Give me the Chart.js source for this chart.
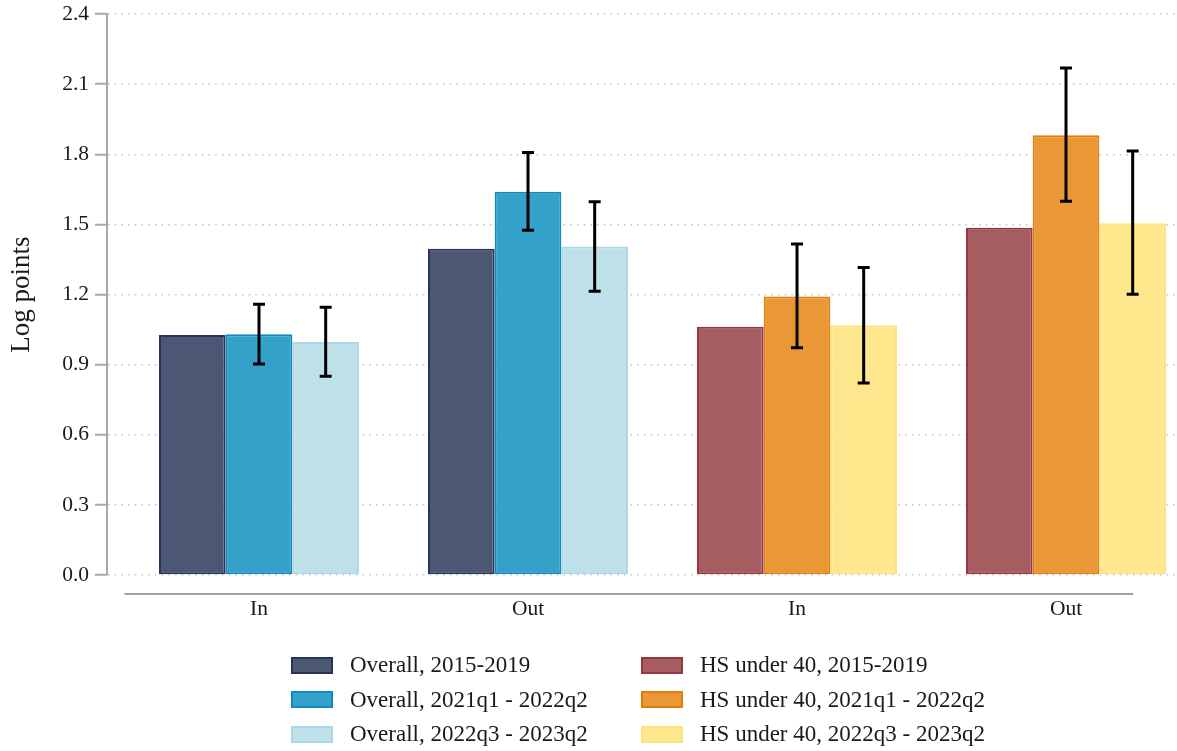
<!DOCTYPE html>
<html>
<head>
<meta charset="utf-8">
<script src="https://cdn.jsdelivr.net/npm/chart.js@4/dist/chart.umd.min.js"></script>
<style>
  html, body { margin: 0; padding: 0; background: #fff; }
  #wrap { position: relative; width: 1177px; height: 751px; overflow: hidden; }
  #c { position: absolute; left: 0; top: 0; }
  #legend { position: absolute; left: 291px; top: 648px; display: grid;
    grid-template-columns: 350px auto; grid-template-rows: repeat(3, 34.5px);
    grid-auto-flow: column; font-family: 'Liberation Serif', serif; font-size: 23px; color: #1a1a1a; }
  .li { display: flex; align-items: center; white-space: nowrap; }
  .sw { width: 42px; height: 17px; box-sizing: border-box; border: 2px solid; margin-right: 17px; flex: none; }
</style>
</head>
<body>
<div id="wrap">
  <canvas id="c" width="1177" height="751"></canvas>
  <div id="legend"></div>
</div>
<script>
// ---- data ----
const categories = ['In', 'Out', 'In', 'Out'];
const xPositions = [1, 2, 3, 4];
const yTickValues = [0, 0.3, 0.6, 0.9, 1.2, 1.5, 1.8, 2.1, 2.4];

const seriesLabels = [
  'Overall, 2015-2019', 'Overall, 2021q1 - 2022q2', 'Overall, 2022q3 - 2023q2',
  'HS under 40, 2015-2019', 'HS under 40, 2021q1 - 2022q2', 'HS under 40, 2022q3 - 2023q2'
];
const overall2015 = [1.027, 1.396, null, null];
const overall2021 = [1.030, 1.640, null, null];
const overall2022 = [0.997, 1.405, null, null];
const hs2015 = [null, null, 1.062, 1.486];
const hs2021 = [null, null, 1.191, 1.881];
const hs2022 = [null, null, 1.068, 1.505];

const overall2021Low  = [0.903, 1.475, null, null];
const overall2021High = [1.158, 1.808, null, null];
const overall2022Low  = [0.850, 1.214, null, null];
const overall2022High = [1.145, 1.597, null, null];
const hs2021Low  = [null, null, 0.972, 1.599];
const hs2021High = [null, null, 1.416, 2.169];
const hs2022Low  = [null, null, 0.821, 1.201];
const hs2022High = [null, null, 1.315, 1.814];

// ---- styles ----
const fills   = ['#4b5773', '#34a1c8', '#bde0e9', '#a65d62', '#e99835', '#fee78d'];
const borders = ['#27335a', '#0e8abf', '#acd8e5', '#953640', '#e17d09', '#fde37d'];

const values = [overall2015, overall2021, overall2022, hs2015, hs2021, hs2022];
const lows   = [null, overall2021Low, overall2022Low, null, hs2021Low, hs2022Low];
const highs  = [null, overall2021High, overall2022High, null, hs2021High, hs2022High];

const toPoints = arr => xPositions.map((x, i) => ({ x: x, y: arr[i] }));

const datasets = values.map((arr, k) => ({
  label: seriesLabels[k],
  data: toPoints(arr),
  errLow: lows[k],
  errHigh: highs[k],
  backgroundColor: fills[k],
  borderColor: borders[k],
  borderWidth: 2,
  borderSkipped: false,
  categoryPercentage: 0.7435,
  barPercentage: 1.0,
  skipNull: true
}));

Chart.defaults.font.family = "'Liberation Serif', serif";
Chart.defaults.color = '#1a1a1a';

const errorBars = {
  id: 'errorBars',
  afterDatasetsDraw(chart) {
    const ctx = chart.ctx;
    const ys = chart.scales.y;
    ctx.save();
    ctx.strokeStyle = '#000';
    ctx.lineWidth = 3;
    ctx.lineCap = 'butt';
    chart.data.datasets.forEach((ds, di) => {
      if (!ds.errLow) return;
      const meta = chart.getDatasetMeta(di);
      meta.data.forEach((el, i) => {
        const lo = ds.errLow[i], hi = ds.errHigh[i];
        if (lo == null || hi == null) return;
        const x = el.x;
        const yl = ys.getPixelForValue(lo), yh = ys.getPixelForValue(hi);
        const cap = 6;
        ctx.beginPath();
        ctx.moveTo(x, yl); ctx.lineTo(x, yh);
        ctx.moveTo(x - cap, yl); ctx.lineTo(x + cap, yl);
        ctx.moveTo(x - cap, yh); ctx.lineTo(x + cap, yh);
        ctx.stroke();
      });
    });
    ctx.restore();
  }
};

const xAxisLine = {
  id: 'xAxisLine',
  afterDraw(chart) {
    const ctx = chart.ctx;
    const xs = chart.scales.x;
    const y = chart.chartArea.bottom + 19;
    ctx.save();
    ctx.strokeStyle = '#a0a0a0';
    ctx.lineWidth = 2;
    ctx.beginPath();
    ctx.moveTo(xs.getPixelForValue(0.5), y);
    ctx.lineTo(xs.getPixelForValue(4.25), y);
    ctx.stroke();
    ctx.restore();
  }
};

const chart = new Chart(document.getElementById('c'), {
  type: 'bar',
  data: { datasets: datasets },
  options: {
    responsive: false,
    animation: false,
    devicePixelRatio: 1,
    layout: { padding: { top: 14, left: 0, right: 0, bottom: 0 } },
    plugins: { legend: { display: false }, tooltip: { enabled: false } },
    scales: {
      x: {
        type: 'linear',
        offset: false,
        min: 0.4349,
        max: 4.4126,
        afterFit: s => { s.height = 176; },
        afterBuildTicks: s => { s.ticks = xPositions.map(v => ({ value: v })); },
        grid: { display: false, offset: false },
        border: { display: false },
        ticks: {
          padding: 13,
          autoSkip: false,
          maxRotation: 0,
          font: { size: 21.5 },
          color: '#1a1a1a',
          callback: (v) => { const i = xPositions.indexOf(v); return i >= 0 ? categories[i] : ''; }
        }
      },
      y: {
        min: 0,
        max: 2.4,
        afterFit: s => { s.width = 107; },
        afterBuildTicks: s => { s.ticks = yTickValues.map(v => ({ value: v })); },
        grid: { color: '#c4c4c4', lineWidth: 1.5, tickColor: '#a8a8a8', tickLength: 12, tickWidth: 2 },
        border: { display: true, color: '#a8a8a8', width: 2, dash: [1.5, 5.2] },
        ticks: {
          padding: 6,
          font: { size: 21.5, lineHeight: 0.7 },
          color: '#1a1a1a',
          callback: v => Number(v).toFixed(1)
        },
        title: {
          display: true,
          text: 'Log points',
          font: { size: 27 },
          color: '#1a1a1a',
          padding: { top: 6, bottom: 0 }
        }
      }
    }
  },
  plugins: [errorBars, xAxisLine]
});

// HTML legend from chart datasets
const legendEl = document.getElementById('legend');
chart.data.datasets.forEach(ds => {
  const item = document.createElement('div');
  item.className = 'li';
  const sw = document.createElement('span');
  sw.className = 'sw';
  sw.style.background = ds.backgroundColor;
  sw.style.borderColor = ds.borderColor;
  const tx = document.createElement('span');
  tx.textContent = ds.label;
  item.appendChild(sw);
  item.appendChild(tx);
  legendEl.appendChild(item);
});
</script>
</body>
</html>
